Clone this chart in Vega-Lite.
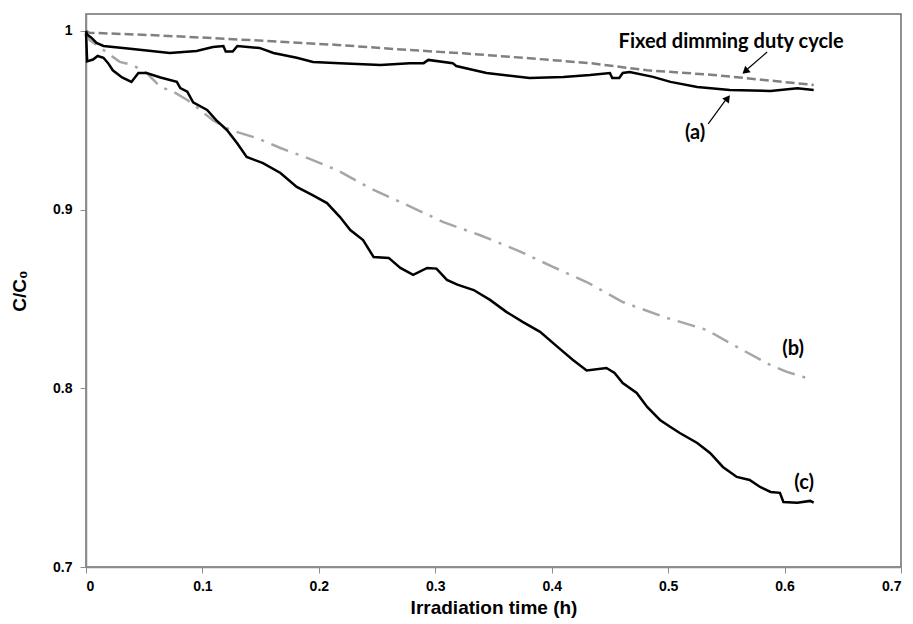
{
  "$schema": "https://vega.github.io/schema/vega-lite/v6.json",
  "width": 815,
  "height": 553,
  "autosize": {"type": "none"},
  "padding": {"left": 86, "top": 14, "right": 12, "bottom": 57},
  "background": "white",
  "config": {
    "view": {"stroke": "#6e6e6e", "strokeWidth": 1.5},
    "axis": {
      "grid": false,
      "domainColor": "#8c8c8c",
      "domainWidth": 1.5,
      "tickColor": "#8c8c8c",
      "tickWidth": 1,
      "tickSize": 6,
      "labelFont": "Liberation Sans",
      "labelFontWeight": "bold",
      "labelFontSize": 14,
      "labelColor": "#000000",
      "titleFont": "Liberation Sans",
      "titleFontWeight": "bold",
      "titleFontSize": 19,
      "titleColor": "#000000"
    }
  },
  "datasets": {
    "curves": [
      {"s": "fixed", "t": 0, "v": 1.0}, {"s": "fixed", "t": 0.003, "v": 0.999}, {"s": "fixed", "t": 0.052, "v": 0.9978}, {"s": "fixed", "t": 0.109, "v": 0.996}, {"s": "fixed", "t": 0.167, "v": 0.994}, {"s": "fixed", "t": 0.216, "v": 0.9922}, {"s": "fixed", "t": 0.267, "v": 0.9898}, {"s": "fixed", "t": 0.324, "v": 0.9875}, {"s": "fixed", "t": 0.381, "v": 0.9847}, {"s": "fixed", "t": 0.433, "v": 0.982}, {"s": "fixed", "t": 0.482, "v": 0.978}, {"s": "fixed", "t": 0.539, "v": 0.9754}, {"s": "fixed", "t": 0.582, "v": 0.9726}, {"s": "fixed", "t": 0.625, "v": 0.9698},

      {"s": "b", "t": 0, "v": 1.0}, {"s": "b", "t": 0.003, "v": 0.995}, {"s": "b", "t": 0.023, "v": 0.9855}, {"s": "b", "t": 0.029, "v": 0.9827}, {"s": "b", "t": 0.04, "v": 0.981}, {"s": "b", "t": 0.052, "v": 0.9765}, {"s": "b", "t": 0.064, "v": 0.9687}, {"s": "b", "t": 0.075, "v": 0.966}, {"s": "b", "t": 0.087, "v": 0.9614}, {"s": "b", "t": 0.098, "v": 0.9558}, {"s": "b", "t": 0.109, "v": 0.95}, {"s": "b", "t": 0.124, "v": 0.9446}, {"s": "b", "t": 0.147, "v": 0.94}, {"s": "b", "t": 0.167, "v": 0.9345}, {"s": "b", "t": 0.19, "v": 0.929}, {"s": "b", "t": 0.216, "v": 0.922}, {"s": "b", "t": 0.244, "v": 0.912}, {"s": "b", "t": 0.272, "v": 0.9037}, {"s": "b", "t": 0.307, "v": 0.893}, {"s": "b", "t": 0.338, "v": 0.8858}, {"s": "b", "t": 0.37, "v": 0.8774}, {"s": "b", "t": 0.401, "v": 0.868}, {"s": "b", "t": 0.43, "v": 0.8595}, {"s": "b", "t": 0.461, "v": 0.8483}, {"s": "b", "t": 0.496, "v": 0.84}, {"s": "b", "t": 0.533, "v": 0.8327}, {"s": "b", "t": 0.559, "v": 0.8232}, {"s": "b", "t": 0.588, "v": 0.813}, {"s": "b", "t": 0.602, "v": 0.8092}, {"s": "b", "t": 0.619, "v": 0.8058},

      {"s": "a", "t": 0, "v": 1.0}, {"s": "a", "t": 0.001, "v": 0.998}, {"s": "a", "t": 0.005, "v": 0.996}, {"s": "a", "t": 0.009, "v": 0.9933}, {"s": "a", "t": 0.015, "v": 0.9916}, {"s": "a", "t": 0.038, "v": 0.99}, {"s": "a", "t": 0.072, "v": 0.9877}, {"s": "a", "t": 0.095, "v": 0.9888}, {"s": "a", "t": 0.109, "v": 0.991}, {"s": "a", "t": 0.118, "v": 0.9916}, {"s": "a", "t": 0.12, "v": 0.9885}, {"s": "a", "t": 0.126, "v": 0.9885}, {"s": "a", "t": 0.13, "v": 0.9916}, {"s": "a", "t": 0.149, "v": 0.9905}, {"s": "a", "t": 0.161, "v": 0.9877}, {"s": "a", "t": 0.181, "v": 0.985}, {"s": "a", "t": 0.195, "v": 0.9827}, {"s": "a", "t": 0.218, "v": 0.982}, {"s": "a", "t": 0.253, "v": 0.981}, {"s": "a", "t": 0.278, "v": 0.982}, {"s": "a", "t": 0.29, "v": 0.982}, {"s": "a", "t": 0.294, "v": 0.9838}, {"s": "a", "t": 0.315, "v": 0.982}, {"s": "a", "t": 0.318, "v": 0.9804}, {"s": "a", "t": 0.344, "v": 0.9765}, {"s": "a", "t": 0.381, "v": 0.9737}, {"s": "a", "t": 0.41, "v": 0.9743}, {"s": "a", "t": 0.433, "v": 0.9754}, {"s": "a", "t": 0.45, "v": 0.9765}, {"s": "a", "t": 0.452, "v": 0.9737}, {"s": "a", "t": 0.458, "v": 0.9737}, {"s": "a", "t": 0.461, "v": 0.9765}, {"s": "a", "t": 0.467, "v": 0.977}, {"s": "a", "t": 0.487, "v": 0.9743}, {"s": "a", "t": 0.502, "v": 0.9715}, {"s": "a", "t": 0.525, "v": 0.9687}, {"s": "a", "t": 0.553, "v": 0.967}, {"s": "a", "t": 0.588, "v": 0.9664}, {"s": "a", "t": 0.611, "v": 0.968}, {"s": "a", "t": 0.625, "v": 0.967},

      {"s": "c", "t": 0, "v": 0.999}, {"s": "c", "t": 0.001, "v": 0.983}, {"s": "c", "t": 0.006, "v": 0.984}, {"s": "c", "t": 0.01, "v": 0.986}, {"s": "c", "t": 0.015, "v": 0.985}, {"s": "c", "t": 0.019, "v": 0.982}, {"s": "c", "t": 0.023, "v": 0.978}, {"s": "c", "t": 0.031, "v": 0.974}, {"s": "c", "t": 0.039, "v": 0.9715}, {"s": "c", "t": 0.045, "v": 0.9765}, {"s": "c", "t": 0.052, "v": 0.9765}, {"s": "c", "t": 0.064, "v": 0.974}, {"s": "c", "t": 0.078, "v": 0.9715}, {"s": "c", "t": 0.081, "v": 0.968}, {"s": "c", "t": 0.087, "v": 0.966}, {"s": "c", "t": 0.092, "v": 0.96}, {"s": "c", "t": 0.104, "v": 0.9558}, {"s": "c", "t": 0.112, "v": 0.95}, {"s": "c", "t": 0.121, "v": 0.9446}, {"s": "c", "t": 0.13, "v": 0.937}, {"s": "c", "t": 0.138, "v": 0.9295}, {"s": "c", "t": 0.152, "v": 0.926}, {"s": "c", "t": 0.167, "v": 0.9205}, {"s": "c", "t": 0.181, "v": 0.9127}, {"s": "c", "t": 0.195, "v": 0.908}, {"s": "c", "t": 0.207, "v": 0.9037}, {"s": "c", "t": 0.218, "v": 0.896}, {"s": "c", "t": 0.227, "v": 0.8886}, {"s": "c", "t": 0.238, "v": 0.883}, {"s": "c", "t": 0.247, "v": 0.8735}, {"s": "c", "t": 0.26, "v": 0.873}, {"s": "c", "t": 0.27, "v": 0.8674}, {"s": "c", "t": 0.281, "v": 0.8635}, {"s": "c", "t": 0.293, "v": 0.8674}, {"s": "c", "t": 0.301, "v": 0.867}, {"s": "c", "t": 0.31, "v": 0.8607}, {"s": "c", "t": 0.319, "v": 0.858}, {"s": "c", "t": 0.333, "v": 0.855}, {"s": "c", "t": 0.347, "v": 0.8495}, {"s": "c", "t": 0.361, "v": 0.8428}, {"s": "c", "t": 0.375, "v": 0.8372}, {"s": "c", "t": 0.39, "v": 0.8316}, {"s": "c", "t": 0.405, "v": 0.8232}, {"s": "c", "t": 0.418, "v": 0.816}, {"s": "c", "t": 0.43, "v": 0.81}, {"s": "c", "t": 0.447, "v": 0.8114}, {"s": "c", "t": 0.454, "v": 0.8086}, {"s": "c", "t": 0.461, "v": 0.803}, {"s": "c", "t": 0.473, "v": 0.7974}, {"s": "c", "t": 0.482, "v": 0.7896}, {"s": "c", "t": 0.493, "v": 0.7823}, {"s": "c", "t": 0.502, "v": 0.7784}, {"s": "c", "t": 0.51, "v": 0.775}, {"s": "c", "t": 0.525, "v": 0.7694}, {"s": "c", "t": 0.536, "v": 0.7638}, {"s": "c", "t": 0.547, "v": 0.756}, {"s": "c", "t": 0.559, "v": 0.7504}, {"s": "c", "t": 0.57, "v": 0.7487}, {"s": "c", "t": 0.579, "v": 0.7448}, {"s": "c", "t": 0.588, "v": 0.742}, {"s": "c", "t": 0.596, "v": 0.7415}, {"s": "c", "t": 0.599, "v": 0.7364}, {"s": "c", "t": 0.611, "v": 0.7359}, {"s": "c", "t": 0.622, "v": 0.737}, {"s": "c", "t": 0.625, "v": 0.736}
    ],
    "labels": [
      {"label": "Fixed dimming duty cycle", "t": 0.5541, "v": 0.9938},
      {"label": "(a)", "t": 0.5232, "v": 0.9429},
      {"label": "(b)", "t": 0.6074, "v": 0.822},
      {"label": "(c)", "t": 0.6168, "v": 0.747}
    ],
    "arrows": [
      {"t": 0.5344, "v": 0.948, "t2": 0.5507, "v2": 0.9625},
      {"t": 0.585, "v": 0.9882, "t2": 0.5662, "v2": 0.9776}
    ],
    "heads": [
      {"t": 0.5512, "v": 0.9624, "angle": 37},
      {"t": 0.5662, "v": 0.9774, "angle": 229}
    ]
  },
  "encoding": {
    "x": {
      "field": "t", "type": "quantitative",
      "scale": {"domain": [0, 0.7], "nice": false, "zero": false},
      "axis": {"values": [0, 0.1, 0.2, 0.3, 0.4, 0.5, 0.6, 0.7], "format": "~g", "title": "Irradiation time (h)", "labelPadding": 6, "titlePadding": 5}
    },
    "y": {
      "field": "v", "type": "quantitative",
      "scale": {"domain": [0.7, 1.0095], "nice": false, "zero": false},
      "axis": {"values": [0.7, 0.8, 0.9, 1], "format": "~g", "title": "C/C₀", "labelPadding": 8, "titlePadding": 23}
    }
  },
  "layer": [
    {
      "data": {"name": "curves"},
      "transform": [{"filter": "datum.s == 'fixed'"}],
      "mark": {"type": "line", "color": "#808080", "strokeWidth": 2.5, "strokeDash": [9, 4]}
    },
    {
      "data": {"name": "curves"},
      "transform": [{"filter": "datum.s == 'b'"}],
      "mark": {"type": "line", "color": "#a6a6a6", "strokeWidth": 2.5, "strokeDash": [18, 8, 3, 8]}
    },
    {
      "data": {"name": "curves"},
      "transform": [{"filter": "datum.s == 'a'"}],
      "mark": {"type": "line", "color": "#000000", "strokeWidth": 2.5}
    },
    {
      "data": {"name": "curves"},
      "transform": [{"filter": "datum.s == 'c'"}],
      "mark": {"type": "line", "color": "#000000", "strokeWidth": 2.5}
    },
    {
      "data": {"name": "arrows"},
      "mark": {"type": "rule", "color": "#000000", "strokeWidth": 1.2},
      "encoding": {
        "x2": {"field": "t2"},
        "y2": {"field": "v2"}
      }
    },
    {
      "data": {"name": "heads"},
      "mark": {"type": "point", "shape": "triangle-up", "filled": true, "color": "#000000", "size": 70, "opacity": 1},
      "encoding": {
        "angle": {"field": "angle", "type": "quantitative", "scale": null}
      }
    },
    {
      "data": {"name": "labels"},
      "mark": {"type": "text", "font": "Lato", "fontWeight": "bold", "fontSize": 20, "color": "#000000", "align": "center", "baseline": "middle"},
      "encoding": {
        "text": {"field": "label"}
      }
    }
  ]
}
